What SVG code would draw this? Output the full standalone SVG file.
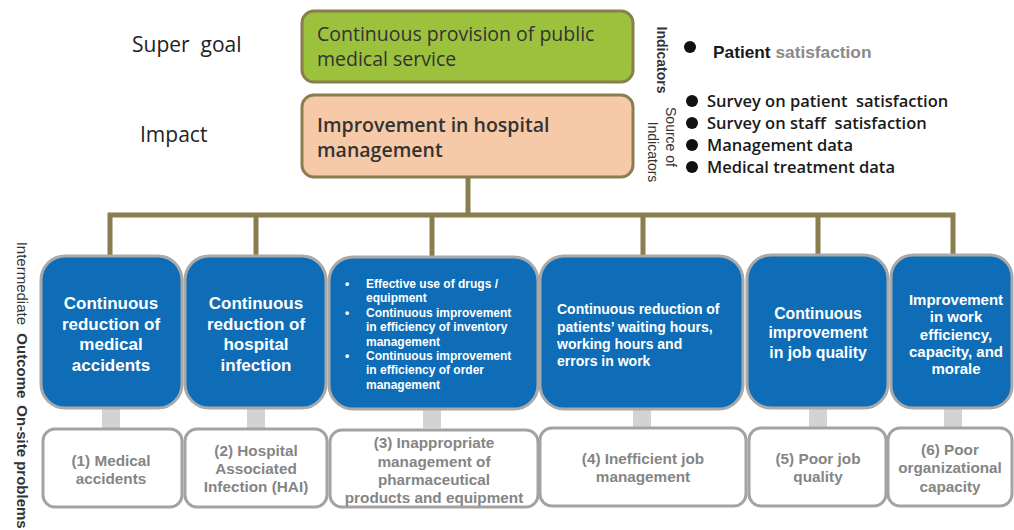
<svg xmlns="http://www.w3.org/2000/svg" width="1014" height="530" viewBox="0 0 1014 530">
<style>
.lbl{font-family:"Open Sans","Liberation Sans",Arial,sans-serif;fill:#222;white-space:pre;}
.side{font-family:"Liberation Sans",Arial,sans-serif;fill:#333;font-size:15px;font-weight:bold;}
.ind{font-family:"Liberation Sans",Arial,sans-serif;fill:#333;font-size:14px;}
.bul{font-family:"Open Sans","Liberation Sans",Arial,sans-serif;fill:#1a1a1a;font-size:16.5px;font-weight:600;white-space:pre;}
.top{font-family:"Open Sans","Liberation Sans",Arial,sans-serif;fill:#333;font-size:19.5px;}
.blue{fill:#0e6db6;stroke:#a9a9a9;stroke-width:3;}
.white{fill:#fff;stroke:#a3a3a3;stroke-width:3;}
.bt{font-family:"Liberation Sans",Arial,sans-serif;fill:#fff;font-weight:bold;text-anchor:middle;}
.bt3{font-family:"Liberation Sans",Arial,sans-serif;fill:#fff;font-weight:bold;font-size:12px;}
.wt{font-family:"Liberation Sans",Arial,sans-serif;fill:#858585;font-weight:bold;font-size:15.3px;text-anchor:middle;}
.conn{fill:none;stroke:#8a7d4e;stroke-width:5;}
.stub{fill:#d3d3d3;}
</style>

<text class="lbl" x="132" y="52" font-size="21">Super  goal</text>
<text class="lbl" x="140" y="142" font-size="21">Impact</text>

<g id="connectors">
  <path class="conn" d="M468 177 V215"/>
  <path class="conn" d="M110 257 V215 H953 V255"/>
  <path class="conn" d="M256 215 V257"/>
  <path class="conn" d="M432 215 V257"/>
  <path class="conn" d="M643 215 V257"/>
  <path class="conn" d="M818 215 V255"/>
  <rect class="stub" x="102" y="408" width="18" height="20"/>
  <rect class="stub" x="247" y="408" width="18" height="20"/>
  <rect class="stub" x="423" y="408" width="18" height="20"/>
  <rect class="stub" x="633" y="408" width="18" height="20"/>
  <rect class="stub" x="809" y="408" width="18" height="20"/>
  <rect class="stub" x="944" y="408" width="18" height="20"/>
</g>

<g id="super-goal">
  <rect x="302" y="11" width="331" height="71" rx="12" fill="#9cc23d" stroke="#8a7d4e" stroke-width="3"/>
  <text class="top" x="317" y="41">Continuous provision of public</text>
  <text class="top" x="317" y="66">medical service</text>
</g>

<g id="impact">
  <rect x="302" y="95" width="331" height="82" rx="12" fill="#f6c9a8" stroke="#8a7d4e" stroke-width="3"/>
  <text class="top" x="317" y="132" fill="#222" font-weight="600">Improvement in hospital</text>
  <text class="top" x="317" y="157" fill="#222" font-weight="600">management</text>
</g>

<g id="indicators">
  <text class="ind" transform="translate(657,60) rotate(90)" text-anchor="middle" font-weight="bold">Indicators</text>
  <circle cx="690" cy="47" r="6" fill="#111"/>
  <text x="713" y="58" font-family="Liberation Sans, Arial, sans-serif" font-size="17.3" font-weight="bold" fill="#1a1a1a">Patient <tspan fill="#8a8a8a">satisfaction</tspan></text>
</g>

<g id="source-of-indicators">
  <text class="ind" transform="translate(666,137) rotate(90)" text-anchor="middle">Source of</text>
  <text class="ind" transform="translate(648,152) rotate(90)" text-anchor="middle">Indicators</text>
  <circle cx="692" cy="101" r="6" fill="#111"/>
  <circle cx="692" cy="123" r="6" fill="#111"/>
  <circle cx="692" cy="145" r="6" fill="#111"/>
  <circle cx="692" cy="167" r="6" fill="#111"/>
  <text class="bul" x="707" y="107">Survey on patient  satisfaction</text>
  <text class="bul" x="707" y="129">Survey on staff  satisfaction</text>
  <text class="bul" x="707" y="151">Management data</text>
  <text class="bul" x="707" y="173">Medical treatment data</text>
</g>

<text class="side" transform="translate(17,320) rotate(90)" text-anchor="middle" style="white-space:pre"><tspan font-weight="normal">Intermediate</tspan>  Outcome</text>
<text class="side" transform="translate(17,467) rotate(90)" text-anchor="middle" font-size="13.5">On-site problems</text>

<g id="outcome-1">
  <rect class="blue" x="41" y="256" width="141" height="152" rx="24"/>
  <text class="bt" font-size="17"><tspan x="111" y="309">Continuous</tspan><tspan x="111" y="330">reduction of</tspan><tspan x="111" y="350">medical</tspan><tspan x="111" y="371">accidents</tspan></text>
</g>
<g id="outcome-2">
  <rect class="blue" x="185" y="256" width="141" height="152" rx="24"/>
  <text class="bt" font-size="17"><tspan x="256" y="309">Continuous</tspan><tspan x="256" y="330">reduction of</tspan><tspan x="256" y="350">hospital</tspan><tspan x="256" y="371">infection</tspan></text>
</g>
<g id="outcome-3">
  <rect class="blue" x="329" y="257" width="209" height="152" rx="24"/>
  <text class="bt3"><tspan x="345" y="288">•</tspan><tspan x="366" y="288">Effective use of drugs /</tspan><tspan x="366" y="302">equipment</tspan><tspan x="345" y="317">•</tspan><tspan x="366" y="317">Continuous improvement</tspan><tspan x="366" y="331">in efficiency of inventory</tspan><tspan x="366" y="346">management</tspan><tspan x="345" y="360">•</tspan><tspan x="366" y="360">Continuous improvement</tspan><tspan x="366" y="374">in efficiency of order</tspan><tspan x="366" y="389">management</tspan></text>
</g>
<g id="outcome-4">
  <rect class="blue" x="540" y="256" width="203" height="153" rx="24"/>
  <text class="bt" font-size="14"><tspan x="557" y="314" text-anchor="start">Continuous reduction of</tspan><tspan x="557" y="332" text-anchor="start">patients’ waiting hours,</tspan><tspan x="557" y="349" text-anchor="start">working hours and</tspan><tspan x="557" y="366" text-anchor="start">errors in work</tspan></text>
</g>
<g id="outcome-5">
  <rect class="blue" x="747" y="255" width="141" height="153" rx="24"/>
  <text class="bt" font-size="15.8"><tspan x="818" y="319">Continuous</tspan><tspan x="818" y="338">improvement</tspan><tspan x="818" y="358">in job quality</tspan></text>
</g>
<g id="outcome-6">
  <rect class="blue" x="891" y="255" width="121" height="153" rx="22"/>
  <text class="bt" font-size="15"><tspan x="956" y="305">Improvement</tspan><tspan x="956" y="322">in work</tspan><tspan x="956" y="340">efficiency,</tspan><tspan x="956" y="357">capacity, and</tspan><tspan x="956" y="374">morale</tspan></text>
</g>

<g id="problem-1">
  <rect class="white" x="43" y="429" width="139" height="78" rx="12"/>
  <text class="wt"><tspan x="111" y="466">(1) Medical</tspan><tspan x="111" y="484">accidents</tspan></text>
</g>
<g id="problem-2">
  <rect class="white" x="185" y="429" width="142" height="78" rx="12"/>
  <text class="wt"><tspan x="256" y="456">(2) Hospital</tspan><tspan x="256" y="474">Associated</tspan><tspan x="256" y="492">Infection (HAI)</tspan></text>
</g>
<g id="problem-3">
  <rect class="white" x="330" y="430" width="208" height="77" rx="12"/>
  <text class="wt"><tspan x="434" y="448">(3) Inappropriate</tspan><tspan x="434" y="467">management of</tspan><tspan x="434" y="485">pharmaceutical</tspan><tspan x="434" y="503">products and equipment</tspan></text>
</g>
<g id="problem-4">
  <rect class="white" x="540" y="428" width="206" height="78" rx="12"/>
  <text class="wt"><tspan x="643" y="464">(4) Inefficient job</tspan><tspan x="643" y="482">management</tspan></text>
</g>
<g id="problem-5">
  <rect class="white" x="749" y="428" width="137" height="78" rx="12"/>
  <text class="wt"><tspan x="818" y="464">(5) Poor job</tspan><tspan x="818" y="482">quality</tspan></text>
</g>
<g id="problem-6">
  <rect class="white" x="888" y="428" width="124" height="78" rx="12"/>
  <text class="wt"><tspan x="950" y="455">(6) Poor</tspan><tspan x="950" y="473">organizational</tspan><tspan x="950" y="492">capacity</tspan></text>
</g>
</svg>
